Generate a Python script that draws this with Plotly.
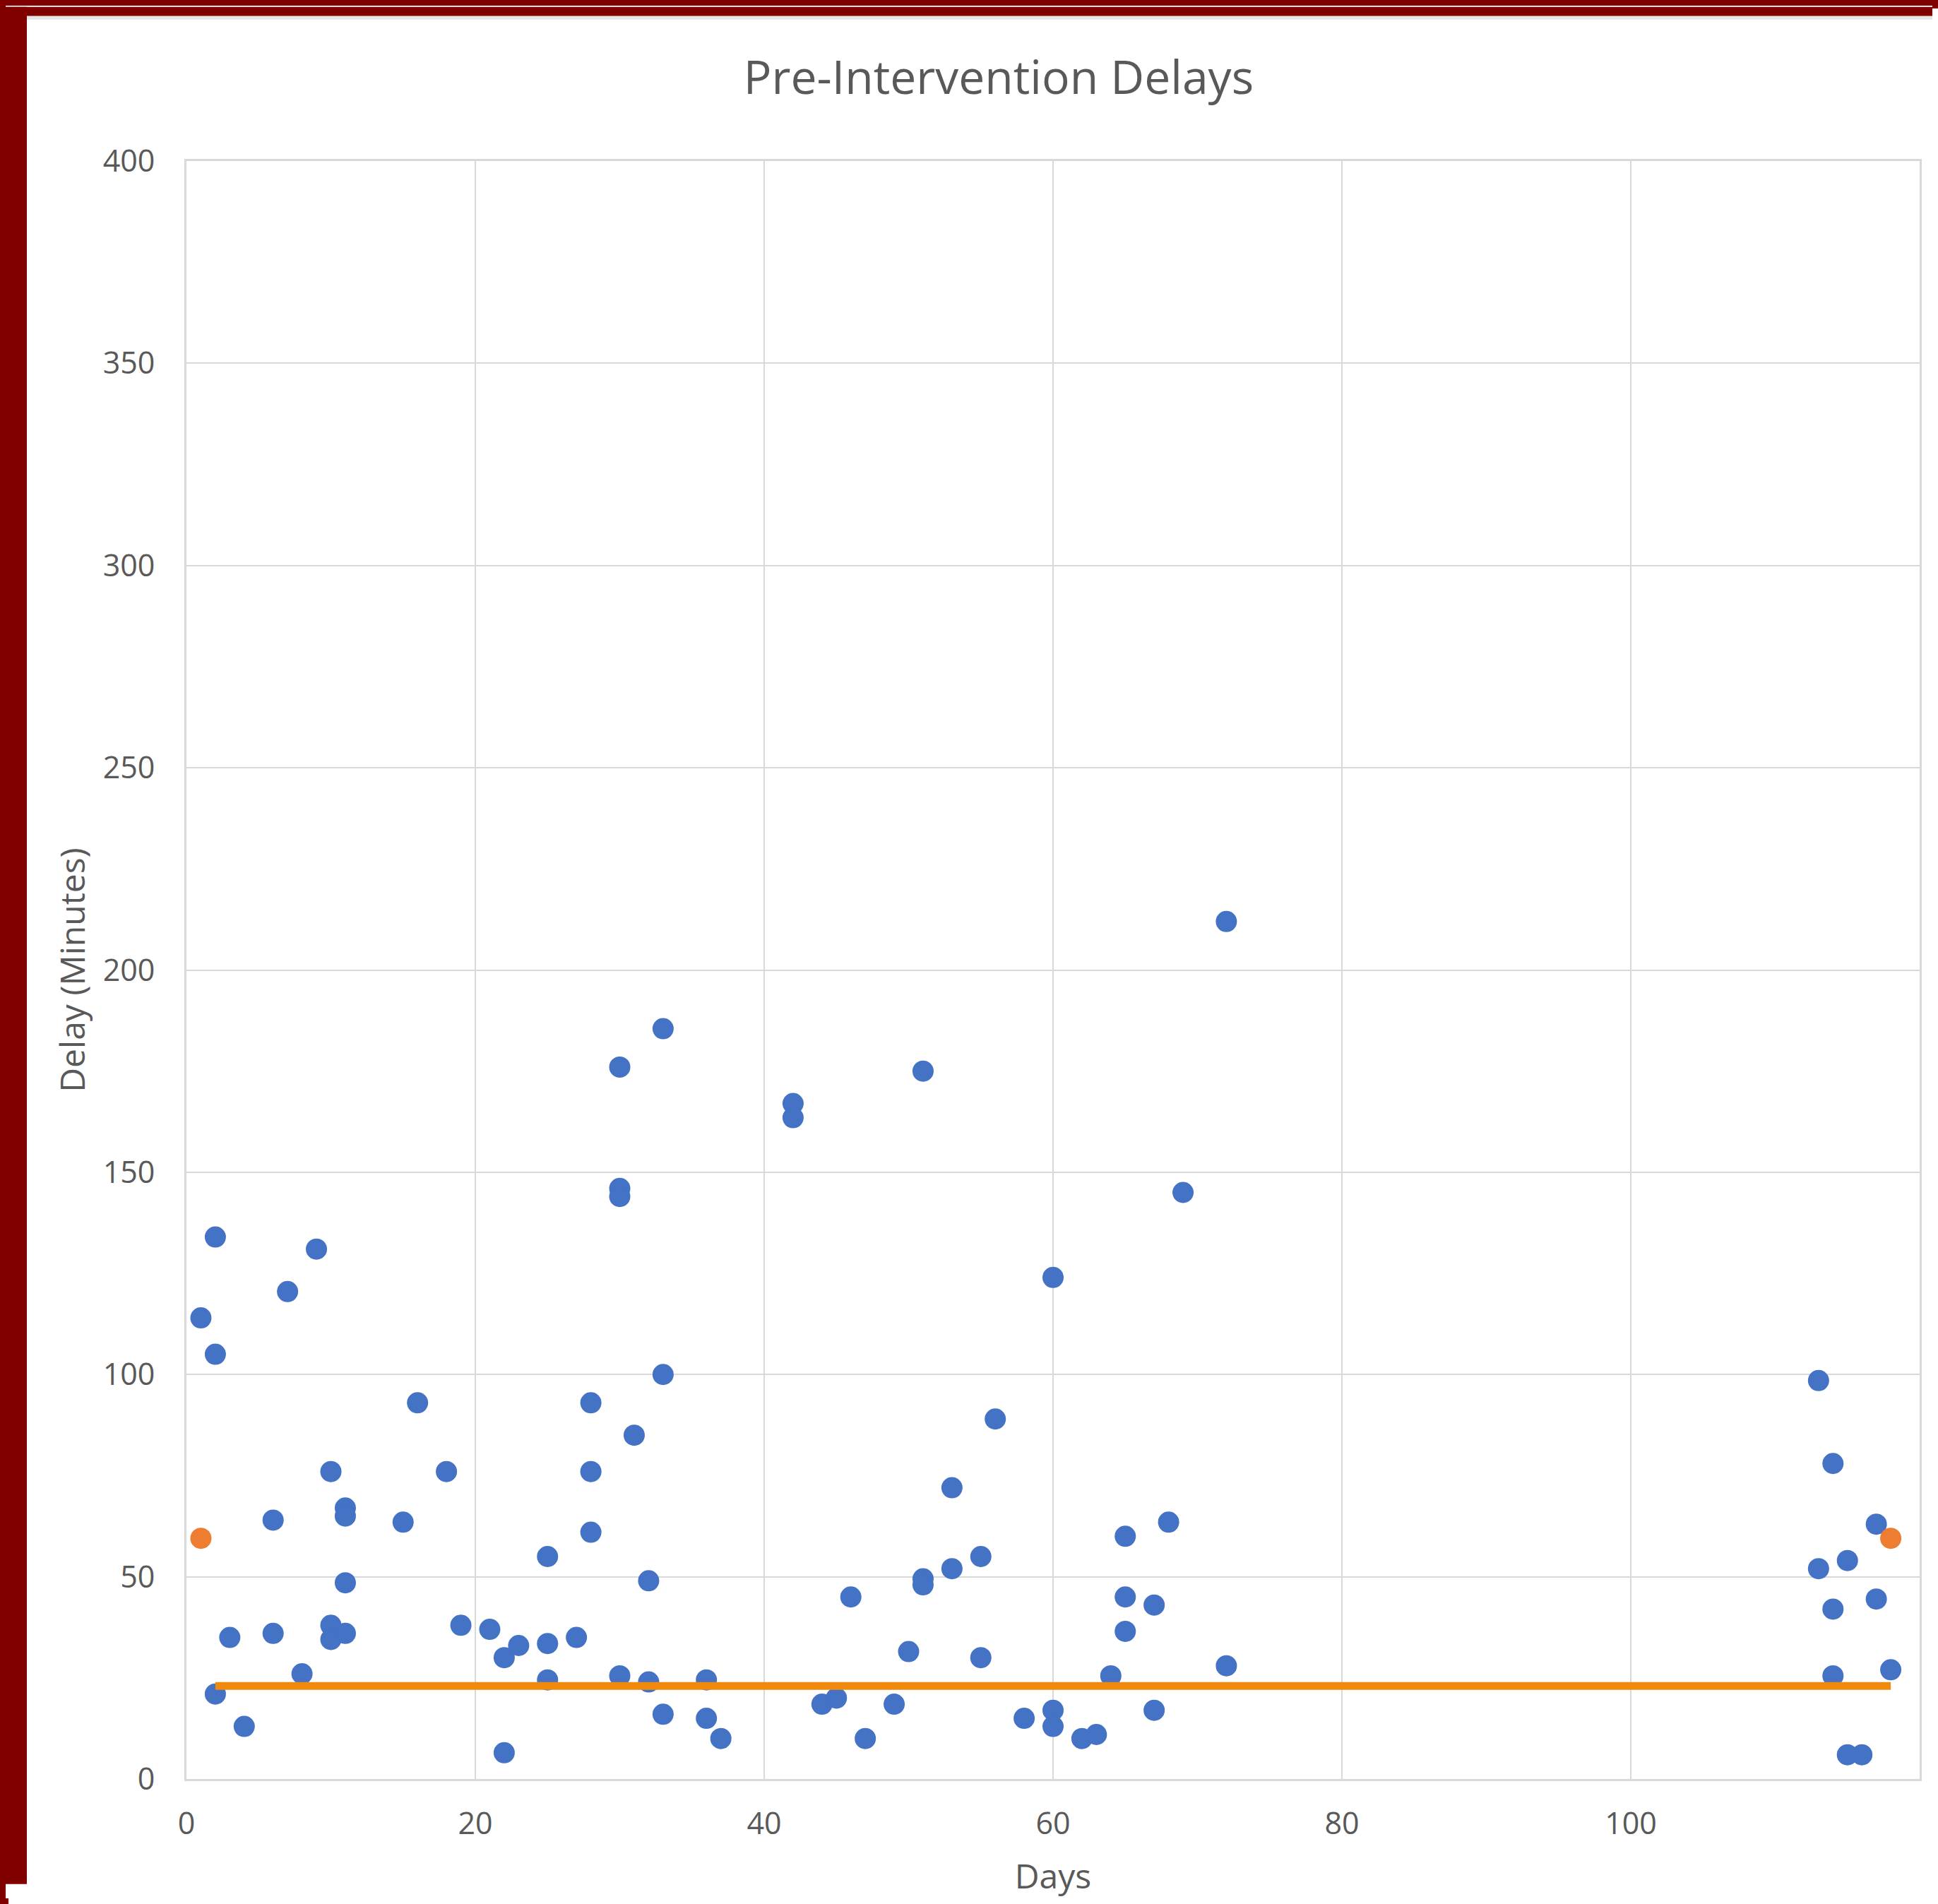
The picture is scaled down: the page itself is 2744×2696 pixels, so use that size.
import plotly.graph_objects as go

# Blue series: day, delay (minutes)
days = [1, 2, 2, 2, 3, 4, 6, 6, 7, 8, 9, 10, 10, 10, 11, 11, 11, 11, 15, 16, 18, 19, 21, 22, 22,
        23, 25, 25, 25, 27, 28, 28, 28, 30, 30, 30, 30, 31, 32, 32, 33, 33, 33, 36, 36, 37, 42, 42,
        44, 45, 46, 47, 49, 50, 51, 51, 51, 53, 53, 55, 55, 56, 58, 60, 60, 60, 62, 63, 64, 65, 65,
        65, 67, 67, 68, 69, 72, 72, 113, 113, 114, 114, 114, 115, 115, 116, 117, 117, 118]
delays = [114, 134, 105, 21, 35, 13, 64, 36, 120.5, 26, 131, 76, 38, 34.5, 67, 65, 48.5, 36, 63.5,
          93, 76, 38, 37, 30, 6.5, 33, 55, 33.5, 24.5, 35, 93, 76, 61, 176, 146, 144, 25.5, 85, 49,
          24, 185.5, 100, 16, 24.5, 15, 10, 167, 163.5, 18.5, 20, 45, 10, 18.5, 31.5, 175, 49.5, 48,
          72, 52, 55, 30, 89, 15, 124, 17, 13, 10, 11, 25.5, 60, 45, 36.5, 43, 17, 63.5, 145, 212,
          28, 98.5, 52, 78, 42, 25.5, 54, 6, 6, 63, 44.5, 27]

# Orange points
orange_days = [1, 118]
orange_delays = [59.5, 59.5]

# Orange horizontal reference line
line_days = [2, 118]
line_delays = [23, 23]

x_ticks = [0, 20, 40, 60, 80, 100, 120]
y_ticks = [0, 50, 100, 150, 200, 250, 300, 350, 400]

# figure sits inside the page's default 8px body margin
W, H = 2728, 2680
L, R, T, B = 256, 18, 220, 150

grey_text = "#595959"
grid = "#d9d9d9"
font_family = "Open Sans, Noto Sans, DejaVu Sans, sans-serif"

fig = go.Figure()
fig.add_trace(go.Scatter(x=days, y=delays, mode="markers",
                         marker=dict(color="#4472C4", size=30, line=dict(width=0)),
                         showlegend=False))
fig.add_trace(go.Scatter(x=orange_days, y=orange_delays, mode="markers",
                         marker=dict(color="#ED7D31", size=30, line=dict(width=0)),
                         showlegend=False))
fig.add_trace(go.Scatter(x=line_days, y=line_delays, mode="lines",
                         line=dict(color="#EF8A0C", width=11),
                         showlegend=False))

pw = W - L - R
ph = H - T - B

def px_x(p):
    return (p - L) / pw

def px_y(p):
    return 1 - (p - T) / ph

shapes = [
    # dark red frame: left and top strips (continuing the red page margin)
    dict(type="rect", xref="paper", yref="paper", x0=px_x(0), x1=px_x(30), y0=px_y(H), y1=px_y(0),
         fillcolor="#800000", line=dict(width=0), layer="below"),
    dict(type="rect", xref="paper", yref="paper", x0=px_x(0), x1=px_x(W), y0=px_y(13), y1=px_y(0),
         fillcolor="#800000", line=dict(width=0), layer="below"),
    # soft shadow under the top strip
    dict(type="rect", xref="paper", yref="paper", x0=px_x(30), x1=px_x(W), y0=px_y(18), y1=px_y(13),
         fillcolor="#e6e6e6", line=dict(width=0), layer="below"),
]

fig.update_layout(
    width=W, height=H,
    margin=dict(l=L, r=R, t=T, b=B),
    paper_bgcolor="white", plot_bgcolor="white",
    font=dict(family=font_family, color=grey_text),
    title=dict(text="Pre-Intervention Delays", x=1406 / W, xanchor="center",
               xref="container", yref="container", y=1 - 102 / H, yanchor="middle",
               font=dict(size=66, color=grey_text, family=font_family)),
    shapes=shapes,
    showlegend=False,
)

fig.update_xaxes(range=[0, 120], tickvals=x_ticks, showgrid=True, gridcolor=grid, gridwidth=2,
                 zeroline=False, showline=True, linecolor=grid, linewidth=3, mirror=True,
                 tickfont=dict(size=43, color=grey_text), ticks="", ticklabelstandoff=23,
                 title=dict(text="Days", font=dict(size=48, color=grey_text), standoff=33))
fig.update_yaxes(range=[0, 400], tickvals=y_ticks, showgrid=True, gridcolor=grid, gridwidth=2,
                 zeroline=False, showline=True, linecolor=grid, linewidth=3, mirror=True,
                 tickfont=dict(size=43, color=grey_text), ticks="", ticklabelstandoff=33,
                 title=dict(text="Delay (Minutes)", font=dict(size=48, color=grey_text), standoff=10))

page_bg = ("linear-gradient(#800000,#800000) left top / 12px 4000px no-repeat, "
           "linear-gradient(#800000,#800000) left top / 4000px 12px no-repeat, #ffffff")
fig.write_html("out.html", config={"displayModeBar": False},
               post_script="document.body.style.background='" + page_bg + "';")
